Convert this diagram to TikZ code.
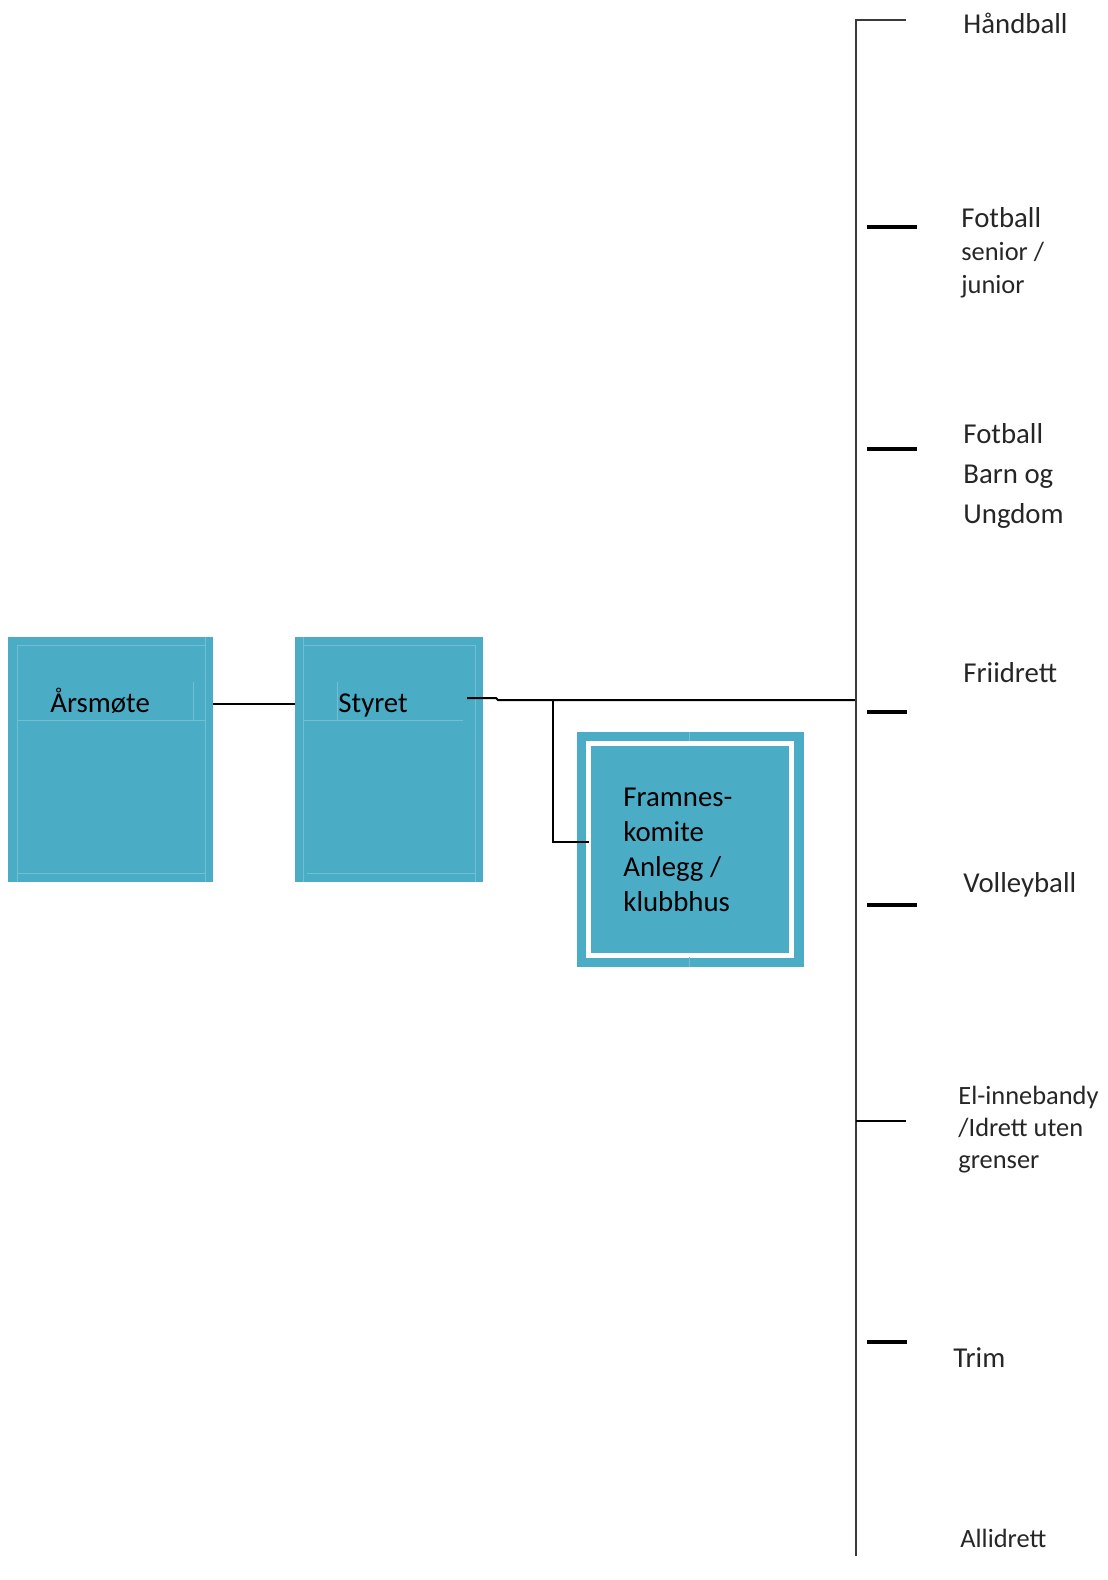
\documentclass[tikz,border=0pt]{standalone}
\usepackage{fontspec}
\setmainfont{Carlito}
\definecolor{boxteal}{HTML}{4BACC6}
\definecolor{seamteal}{HTML}{72BFD4}
\definecolor{spinegray}{HTML}{3A3A3A}
\begin{document}
\begin{tikzpicture}[x=0.5pt,y=-0.5pt,
		box/.style={fill=boxteal,draw=none,inner sep=0pt},
		boxtxt/.style={anchor=base west,inner sep=0pt,font=\fontsize{14.4}{17.5}\selectfont},
		big/.style={anchor=base west,inner sep=0pt,text=black!85,font=\fontsize{14.4}{17}\selectfont},
		small/.style={anchor=base west,inner sep=0pt,text=black!85,font=\fontsize{13.2}{15.8}\selectfont},
		seam/.style={seamteal,line width=0.5pt},
		conn/.style={black,line width=1pt},
		tick/.style={black,line width=1.6pt}]
		\useasboundingbox (0,0) rectangle (1108,1580);
		
		% boxes
		\node[box,minimum width=102.5pt,minimum height=122.5pt] (arsmote) at (110.5,759.5) {};
		\node[box,minimum width=94pt,minimum height=122.5pt] (styret) at (389,759.5) {};
		\node[box,minimum width=113.5pt,minimum height=117.5pt] (framnesbg) at (690.5,849.5) {};
		\node[box,draw=white,line width=2.5pt,minimum width=101.25pt,minimum height=105.75pt] (framnes) at (689.75,849.25) {};
		
		% seams in the boxes
		\draw[seam] (17,645) -- (205,645) (17,720) -- (205,720) (17,873) -- (205,873);
		\draw[seam] (17,645) -- (17,882) (205,637) -- (205,882) (193,682) -- (193,720);
		\draw[seam] (303,645) -- (475,645) (303,720) -- (463,720) (307,873) -- (475,873);
		\draw[seam] (303,637) -- (303,882) (475,645) -- (475,882) (337,682) -- (337,720);
		\draw[seam] (689,732) -- (689,741) (689,957) -- (689,967);
		
		\node[boxtxt] (arsmotetxt) at (50,712) {Årsmøte};
		\node[boxtxt] (styrettxt) at (338,712) {Styret};
		% base of a multi-line node is its last line
		\node[boxtxt,align=left] (framnestxt) at (623,911) {Framnes-\\komite\\Anlegg /\\klubbhus};
		
		% connectors
		\coordinate (join) at (250,704);
		\coordinate (stub) at (467,698);
		\coordinate (fork) at (553,700);
		\coordinate (tee) at (856,700);
		\coordinate (top) at (856,20);
		\coordinate (bottom) at (856,1556);
		\draw[conn] (arsmote.east |- join) -- (styret.west |- join);
		\draw[conn] (stub) -- (496,698) -- (498,700) -- (tee);
		\draw[conn] (fork) |- ([xshift=1.5pt,yshift=3.5pt]framnes.west);
		\draw[spinegray,line width=1.3pt] (bottom) -- (top) -- (906,20);
		\draw[conn] (856,1121) -- (906,1121);
		\foreach \y/\e in {227/917, 449/917, 712/907, 905/917, 1342/907}{
			\draw[tick] (867,\y) -- (\e,\y);
		}
		
		% labels
		\node[big] (handball) at (963,33) {Håndball};
		\node[small,align=left,font=\fontsize{13.2}{16.5}\selectfont] (fotsenior) at (961,293) {{\fontsize{14.4}{16.5}\selectfont Fotball}\\senior /\\junior};
		\node[big,align=left,font=\fontsize{14.4}{20}\selectfont] (fotbarn) at (963,523) {Fotball\\Barn og\\Ungdom};
		\node[big] (friidrett) at (963,682) {Friidrett};
		\node[big] (volleyball) at (963,892) {Volleyball};
		\node[small,align=left] (elinnebandy) at (958,1168) {El-innebandy\\/Idrett uten\\grenser};
		\node[big] (trim) at (953,1367) {Trim};
		\node[small] (allidrett) at (960,1547) {Allidrett};
\end{tikzpicture}
\end{document}
